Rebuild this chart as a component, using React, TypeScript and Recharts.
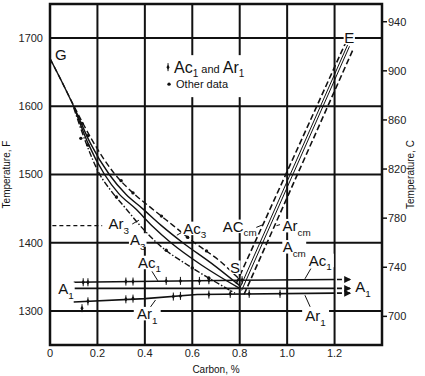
import { ComposedChart, Line, Scatter, XAxis, YAxis, CartesianGrid, ReferenceArea } from "recharts";

const FONT = '"Liberation Sans", Arial, Helvetica, sans-serif';
const INK = "#111";

const carbonTicks = [0, 0.2, 0.4, 0.6, 0.8, 1.0, 1.2];
const fahrenheitTicks = [1300, 1400, 1500, 1600, 1700];
const celsiusTicks = [700, 740, 780, 820, 860, 900, 940];

// curves: carbon % vs temperature F
const ac3Curve = [
  { c: 0, F: 1670 }, { c: 0.05, F: 1636 }, { c: 0.1, F: 1601 }, { c: 0.18, F: 1549 },
  { c: 0.27, F: 1502 }, { c: 0.35, F: 1473 }, { c: 0.43, F: 1450 }, { c: 0.52, F: 1425 },
  { c: 0.61, F: 1400 }, { c: 0.72, F: 1372 }, { c: 0.8, F: 1346 },
];
const a3UpperCurve = [
  { c: 0, F: 1670 }, { c: 0.05, F: 1636 }, { c: 0.1, F: 1600 }, { c: 0.17, F: 1546 },
  { c: 0.25, F: 1500 }, { c: 0.32, F: 1471 }, { c: 0.39, F: 1450 }, { c: 0.47, F: 1425 },
  { c: 0.56, F: 1400 }, { c: 0.68, F: 1370 }, { c: 0.8, F: 1337 },
];
const a3LowerCurve = [
  { c: 0.1, F: 1600 }, { c: 0.16, F: 1546 }, { c: 0.23, F: 1500 }, { c: 0.29, F: 1472 },
  { c: 0.36, F: 1450 }, { c: 0.43, F: 1425 }, { c: 0.51, F: 1400 }, { c: 0.64, F: 1367 },
  { c: 0.8, F: 1333 },
];
const ar3Curve = [
  { c: 0.1, F: 1598 }, { c: 0.15, F: 1548 }, { c: 0.21, F: 1500 }, { c: 0.26, F: 1475 },
  { c: 0.32, F: 1450 }, { c: 0.38, F: 1425 }, { c: 0.45, F: 1400 }, { c: 0.6, F: 1363 },
  { c: 0.7, F: 1342 }, { c: 0.78, F: 1326 },
];
const ar3Extension = [{ c: 0.01, F: 1425 }, { c: 0.22, F: 1425 }];

const accmLine = [{ c: 0.785, F: 1340 }, { c: 1.245, F: 1692 }];
const acmLine = [{ c: 0.8, F: 1333 }, { c: 1.255, F: 1690 }];
const acmLine2 = [{ c: 0.808, F: 1330 }, { c: 1.263, F: 1688 }];
const arcmLine = [{ c: 0.818, F: 1324 }, { c: 1.28, F: 1685 }];

const ac1Line = [{ c: 0.1, F: 1342 }, { c: 0.8, F: 1345 }, { c: 1.2, F: 1346 }];
const a1Line = [{ c: 0.1, F: 1333 }, { c: 1.2, F: 1333 }];
const ar1Line = [{ c: 0.1, F: 1313 }, { c: 0.4, F: 1318 }, { c: 0.62, F: 1324 }, { c: 1.2, F: 1326 }];
const ac1Arrow = [{ c: 1.21, F: 1346 }, { c: 1.27, F: 1346 }];
const a1Arrow = [{ c: 1.21, F: 1333 }, { c: 1.27, F: 1333 }];
const ar1Arrow = [{ c: 1.21, F: 1326 }, { c: 1.27, F: 1326 }];

// measured points
const ac1Ar1Points = [
  { c: 0.14, F: 1342 }, { c: 0.16, F: 1342 }, { c: 0.32, F: 1343 }, { c: 0.35, F: 1343 },
  { c: 0.49, F: 1344 }, { c: 0.55, F: 1344 }, { c: 0.63, F: 1344 }, { c: 0.67, F: 1345 },
  { c: 0.81, F: 1345 },
  { c: 0.135, F: 1304 }, { c: 0.16, F: 1314 }, { c: 0.32, F: 1317 }, { c: 0.35, F: 1318 },
  { c: 0.52, F: 1321 }, { c: 0.55, F: 1322 }, { c: 0.67, F: 1324 }, { c: 0.76, F: 1325 },
  { c: 0.84, F: 1325 }, { c: 0.97, F: 1325 },
];
const otherPoints = [
  { c: 0.135, F: 1575 }, { c: 0.16, F: 1557 }, { c: 0.3, F: 1491 }, { c: 0.35, F: 1473 },
  { c: 0.47, F: 1439 }, { c: 0.58, F: 1408 }, { c: 0.66, F: 1388 },
  { c: 0.13, F: 1553 }, { c: 0.16, F: 1543 }, { c: 0.28, F: 1467 }, { c: 0.49, F: 1389 },
  { c: 0.6, F: 1363 }, { c: 0.67, F: 1348 },
];

// leader lines from labels to curves
const leaders = [
  [{ c: 0.345, F: 1427 }, { c: 0.375, F: 1433 }],
  [{ c: 0.565, F: 1417 }, { c: 0.535, F: 1411 }],
  [{ c: 0.43, F: 1358 }, { c: 0.455, F: 1344 }],
  [{ c: 0.42, F: 1304 }, { c: 0.445, F: 1316 }],
  [{ c: 1.1, F: 1362 }, { c: 1.075, F: 1347 }],
  [{ c: 1.075, F: 1323 }, { c: 1.097, F: 1306 }],
  [{ c: 0.86, F: 1421 }, { c: 0.895, F: 1426 }],
  [{ c: 0.985, F: 1428 }, { c: 0.955, F: 1425 }],
];

const phaseLabels = [
  { c: 0.046, F: 1676, main: "G", sub: "" },
  { c: 1.262, F: 1701, main: "E", sub: "" },
  { c: 0.78, F: 1364, main: "S", sub: "" },
  { c: 0.29, F: 1428, main: "Ar", sub: "3" },
  { c: 0.37, F: 1404, main: "A", sub: "3" },
  { c: 0.61, F: 1421, main: "Ac", sub: "3" },
  { c: 0.42, F: 1371, main: "Ac", sub: "1" },
  { c: 0.067, F: 1332, main: "A", sub: "1" },
  { c: 0.41, F: 1296, main: "Ar", sub: "1" },
  { c: 0.8, F: 1424, main: "AC", sub: "cm" },
  { c: 1.04, F: 1425, main: "Ar", sub: "cm" },
  { c: 1.03, F: 1394, main: "A", sub: "cm" },
  { c: 1.14, F: 1374, main: "Ac", sub: "1" },
  { c: 1.32, F: 1335, main: "A", sub: "1" },
  { c: 1.12, F: 1293, main: "Ar", sub: "1" },
];

const legendAnchor = [{ c: 0.464, F: 1675 }];

const PhaseLabel = (props: any) => {
  const { cx, cy, payload } = props;
  const size = 15;
  const w = payload.main.length * size * 0.62 + payload.sub.length * size * 0.42;
  return (
    <g>
      <rect x={cx - w / 2 - 1} y={cy - size * 0.45} width={w + 2} height={size * 0.9} fill="#fff" />
      <text x={cx} y={cy + size * 0.36} textAnchor="middle" fontSize={size} fontFamily={FONT} fill={INK}>
        <tspan>{payload.main}</tspan>
        {payload.sub ? (
          <tspan dy={size * 0.3} fontSize={size * 0.66}>{payload.sub}</tspan>
        ) : null}
      </text>
    </g>
  );
};

const Diamond = ({ cx, cy }: { cx: number; cy: number }) => (
  <g>
    <line x1={cx} y1={cy - 4} x2={cx} y2={cy + 4} stroke={INK} strokeWidth={1} />
    <polygon points={`${cx},${cy - 2.5} ${cx + 1.6},${cy} ${cx},${cy + 2.5} ${cx - 1.6},${cy}`} fill={INK} />
  </g>
);

const DataDot = (props: any) => <circle cx={props.cx} cy={props.cy} r={1.7} fill={INK} />;
const DiamondMark = (props: any) => <Diamond cx={props.cx} cy={props.cy} />;

const LegendBox = (props: any) => {
  const { cx, cy } = props;
  return (
    <g fontFamily={FONT} fill={INK}>
      <rect x={cx} y={cy} width={92} height={42} fill="#fff" />
      <Diamond cx={cx + 8} cy={cy + 12} />
      <text x={cx + 14} y={cy + 18} fontSize={16}>
        <tspan>Ac</tspan>
        <tspan dy={4} fontSize={10}>1</tspan>
        <tspan dy={-4} fontSize={11}> and </tspan>
        <tspan fontSize={16}>Ar</tspan>
        <tspan dy={4} fontSize={10}>1</tspan>
      </text>
      <circle cx={cx + 9} cy={cy + 29} r={1.7} />
      <text x={cx + 16} y={cy + 33} fontSize={11}>Other data</text>
    </g>
  );
};

const arrowHead = (props: any) => {
  const { cx, cy, index } = props;
  if (index !== 1) return <g key={`n${index}`} />;
  return <polygon key={`a${index}`} points={`${cx - 7},${cy - 3.5} ${cx},${cy} ${cx - 7},${cy + 3.5}`} fill={INK} />;
};

const axisTitle = (text: string, dx: number) => (props: any) => {
  const { x, y, height } = props.viewBox;
  const tx = x + dx;
  const ty = y + height / 2;
  return (
    <text x={tx} y={ty} transform={`rotate(-90 ${tx} ${ty})`} textAnchor="middle" fontSize={10} fontFamily={FONT} fill={INK}>
      {text}
    </text>
  );
};

const lineProps = { yAxisId: "f", dot: false, isAnimationActive: false, stroke: INK, legendType: "none" as const };

export default function App() {
  return (
    <div style={{ position: "absolute", left: 0, top: 0 }}>
      <ComposedChart width={425} height={376} margin={{ top: 4, right: 0, bottom: 0, left: 0 }}>
        <CartesianGrid yAxisId="f" stroke={INK} strokeWidth={2} />
        <XAxis
          type="number"
          dataKey="c"
          domain={[0, 1.4]}
          ticks={carbonTicks}
          tickFormatter={(v: number) => (v === 0 ? "0" : v.toFixed(1))}
          axisLine={false}
          tickLine={false}
          tickSize={0}
          tickMargin={4}
          height={31}
          tick={{ fontSize: 11, fill: "#222", fontFamily: FONT }}
          label={{ value: "Carbon, %", position: "insideBottom", offset: 3, fontSize: 10, fill: INK, fontFamily: FONT }}
        />
        <YAxis
          yAxisId="f"
          dataKey="F"
          type="number"
          domain={[1250, 1750]}
          ticks={fahrenheitTicks}
          axisLine={false}
          tickLine={false}
          tickSize={0}
          tickMargin={7}
          width={50}
          tick={{ fontSize: 11, fill: "#222", fontFamily: FONT }}
          label={{ content: axisTitle("Temperature, F", 10) }}
        />
        <YAxis
          yAxisId="c"
          orientation="right"
          type="number"
          domain={[(1250 - 32) / 1.8, (1750 - 32) / 1.8]}
          allowDataOverflow
          ticks={celsiusTicks}
          axisLine={false}
          tickLine={{ stroke: INK, strokeWidth: 1.5 }}
          tickSize={5}
          tickMargin={1}
          width={43}
          tick={{ fontSize: 11, fill: "#222", fontFamily: FONT }}
          label={{ content: axisTitle("Temperature, C", 32) }}
        />
        <ReferenceArea yAxisId="f" x1={0} x2={1.4} y1={1250} y2={1750} fill="none" stroke={INK} strokeWidth={2.5} />

        <Line {...lineProps} data={ac3Curve} dataKey="F" type="monotone" strokeWidth={1.4} strokeDasharray="6 3" />
        <Line {...lineProps} data={a3UpperCurve} dataKey="F" type="monotone" strokeWidth={1.4} />
        <Line {...lineProps} data={a3LowerCurve} dataKey="F" type="monotone" strokeWidth={1.4} />
        <Line {...lineProps} data={ar3Curve} dataKey="F" type="monotone" strokeWidth={1.4} strokeDasharray="6 2 1.5 2" />
        <Line {...lineProps} data={ar3Extension} dataKey="F" strokeWidth={1.3} strokeDasharray="4 3" />

        <Line {...lineProps} data={accmLine} dataKey="F" strokeWidth={1.6} strokeDasharray="6 3" />
        <Line {...lineProps} data={acmLine} dataKey="F" strokeWidth={1} />
        <Line {...lineProps} data={acmLine2} dataKey="F" strokeWidth={1} />
        <Line {...lineProps} data={arcmLine} dataKey="F" strokeWidth={1.6} strokeDasharray="6 3" />

        <Line {...lineProps} data={ac1Line} dataKey="F" strokeWidth={1.6} />
        <Line {...lineProps} data={a1Line} dataKey="F" strokeWidth={1.6} />
        <Line {...lineProps} data={ar1Line} dataKey="F" strokeWidth={1.6} />
        <Line {...lineProps} data={ac1Arrow} dataKey="F" strokeWidth={1.6} strokeDasharray="5 3" dot={arrowHead} />
        <Line {...lineProps} data={a1Arrow} dataKey="F" strokeWidth={1.6} strokeDasharray="5 3" dot={arrowHead} />
        <Line {...lineProps} data={ar1Arrow} dataKey="F" strokeWidth={1.6} strokeDasharray="5 3" dot={arrowHead} />

        {leaders.map((seg, i) => (
          <Line key={`ld${i}`} {...lineProps} data={seg} dataKey="F" strokeWidth={1} />
        ))}

        <Scatter yAxisId="f" data={ac1Ar1Points} dataKey="F" shape={DiamondMark} isAnimationActive={false} />
        <Scatter yAxisId="f" data={otherPoints} dataKey="F" shape={DataDot} isAnimationActive={false} />
        <Scatter yAxisId="f" data={phaseLabels} dataKey="F" shape={PhaseLabel} isAnimationActive={false} />
        <Scatter yAxisId="f" data={legendAnchor} dataKey="F" shape={LegendBox} isAnimationActive={false} />
      </ComposedChart>
    </div>
  );
}
